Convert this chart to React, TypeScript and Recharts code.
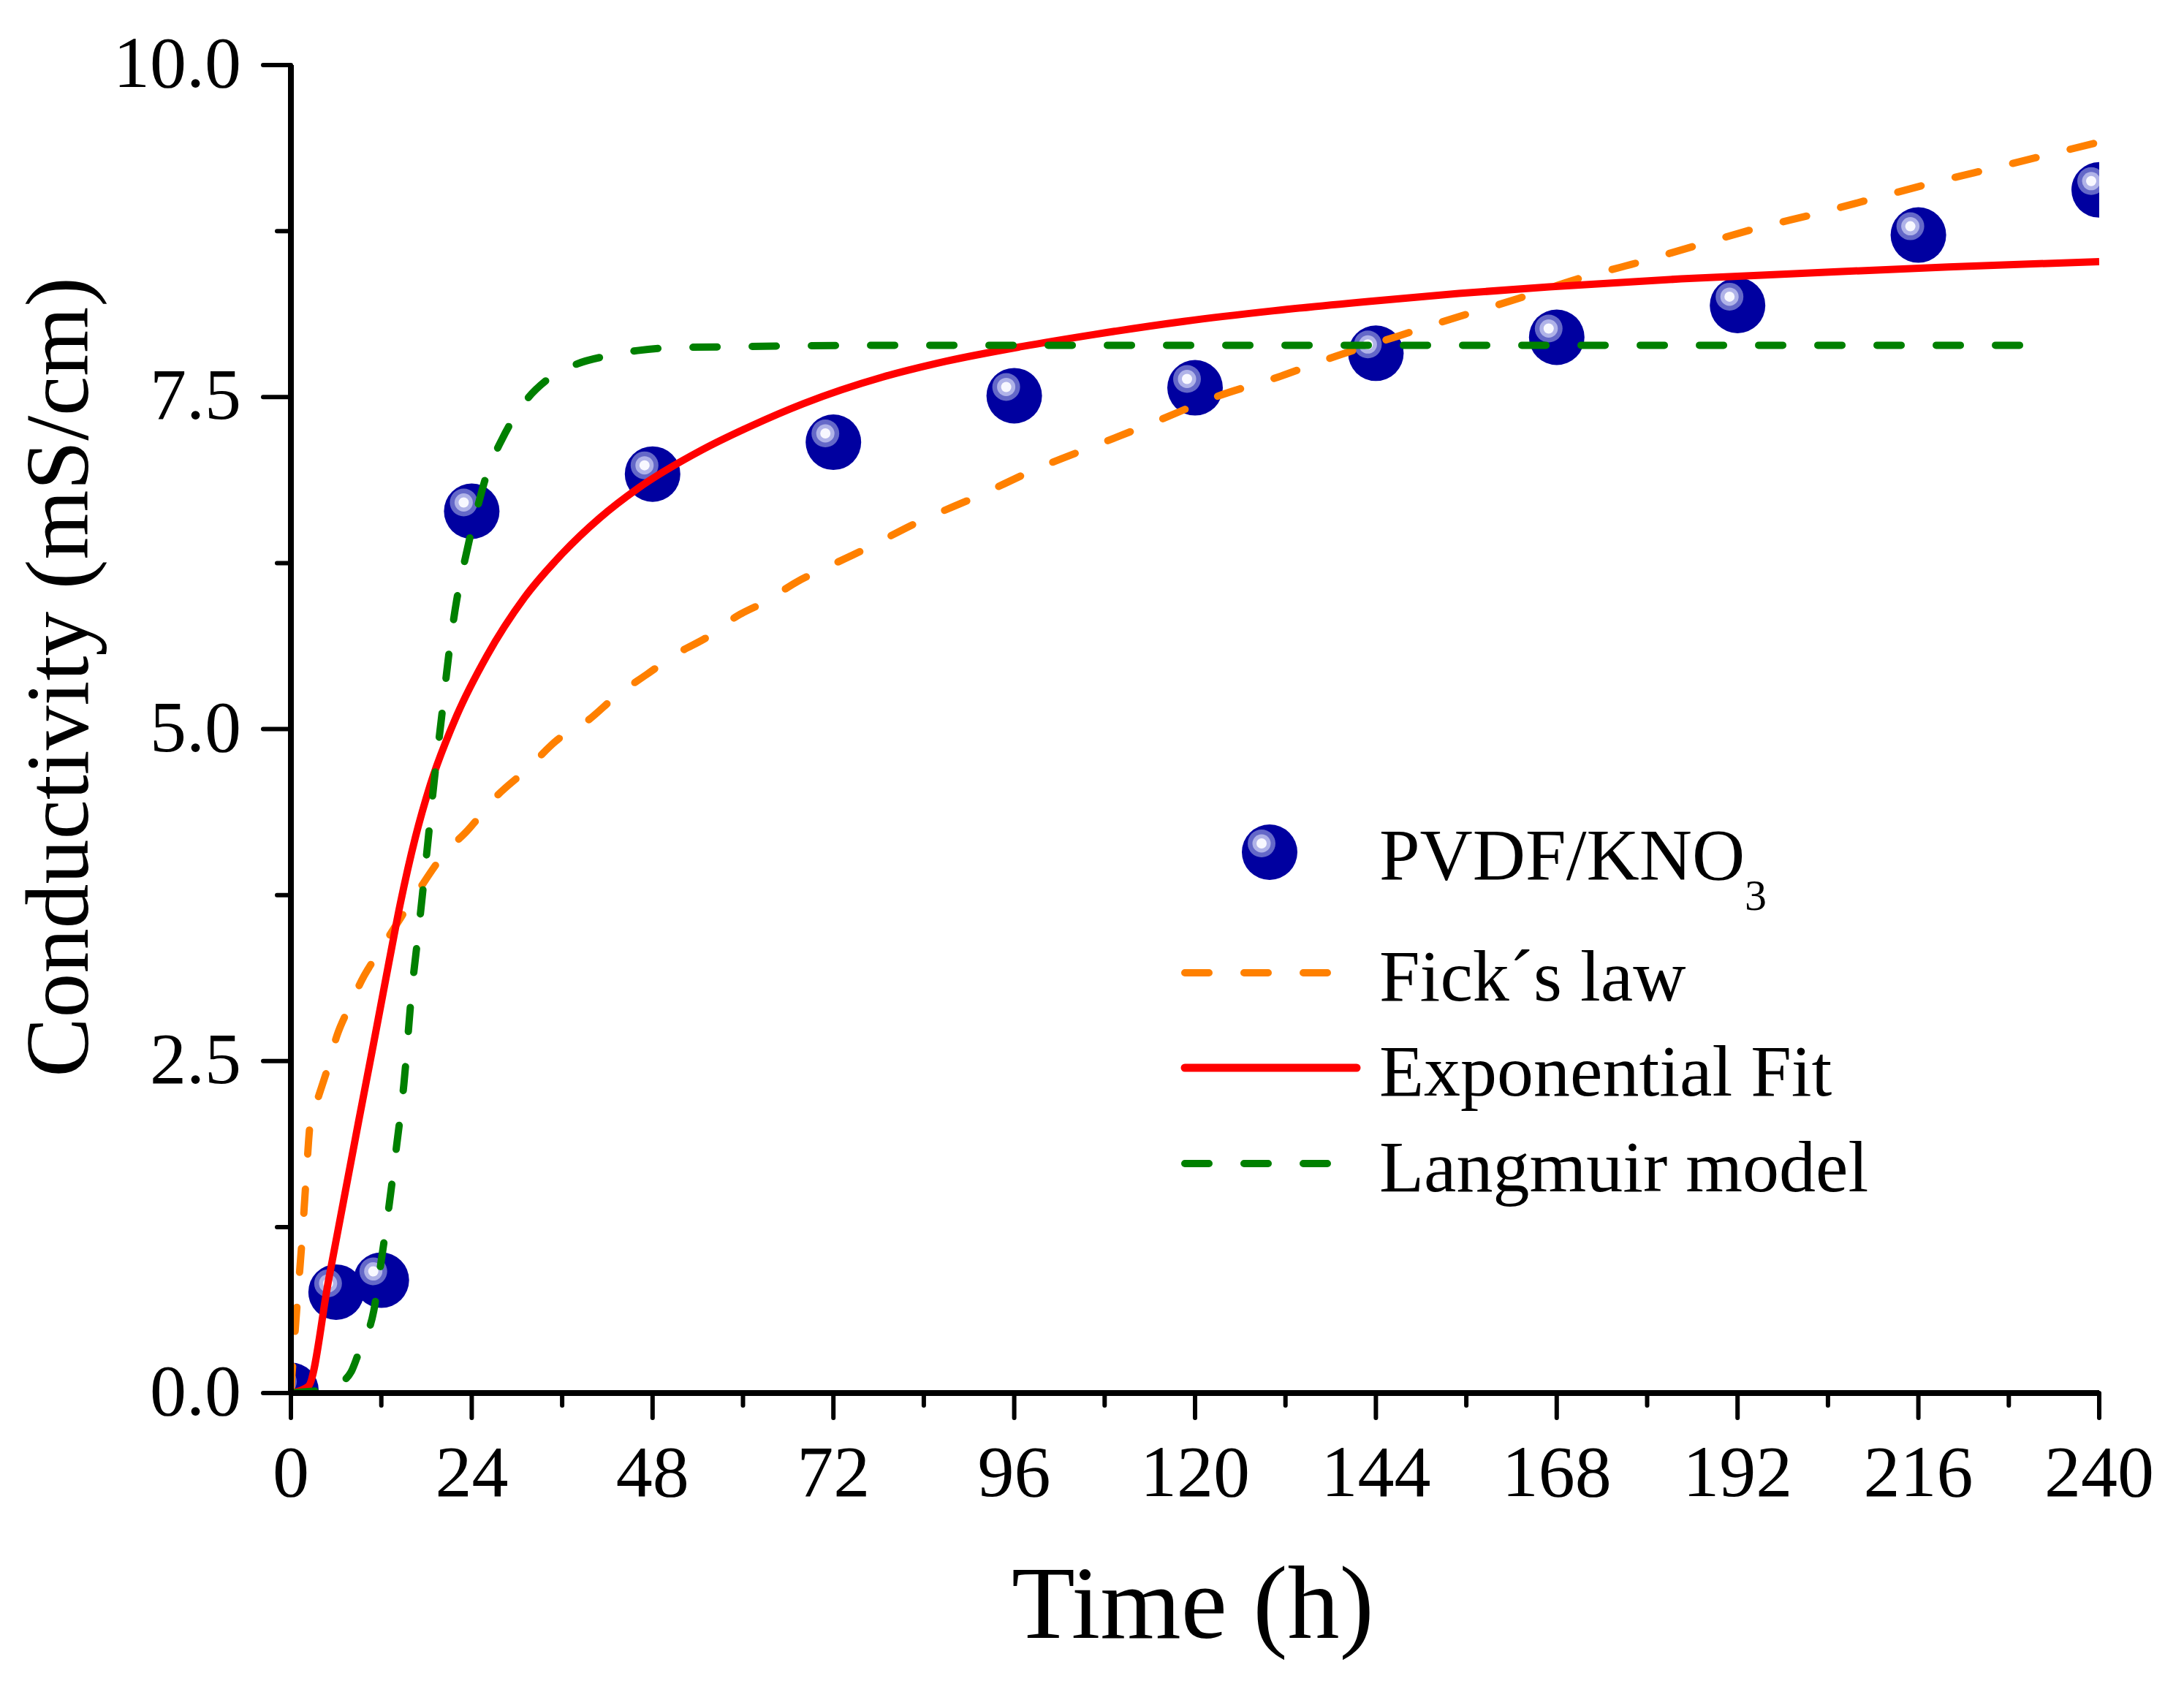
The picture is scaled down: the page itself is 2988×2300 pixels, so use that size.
import React from 'react';
import { ComposedChart, Line, Scatter, XAxis, YAxis, Legend, Label } from 'recharts';

// measured conductivity, PVDF/KNO3
const measTime = [0, 6, 12, 24, 48, 72, 96, 120, 144, 168, 192, 216, 240];
const measCond = [0.02, 0.76, 0.85, 6.64, 6.92, 7.16, 7.51, 7.57, 7.83, 7.95, 8.19, 8.72, 9.06];

// Fick's law model
const fickTime = [
  0, 0.5, 1, 1.5, 2, 2.6, 3.7, 4.9, 6.1, 7.6, 9.7, 11.8, 14.7, 17, 20.2, 23.5, 27.4, 31.2,
  35.4, 39.3, 43.4, 47.2, 51.3, 55.2, 59.2, 63, 67.2, 70.8, 75.3, 83.3, 91.4, 99, 107, 115,
  122.7, 131, 138.8, 147, 154.7, 162.8, 170.8, 178.6, 186.5, 194.5, 202.4, 210.4, 218.4,
  226.4, 234.3, 240,
];
const fickCond = [
  0.02, 0.42, 0.8, 1.17, 1.6, 2.05, 2.24, 2.45, 2.69, 2.89, 3.14, 3.33, 3.59, 3.79, 4.05, 4.24,
  4.5, 4.69, 4.92, 5.06, 5.26, 5.41, 5.57, 5.69, 5.85, 5.96, 6.11, 6.21, 6.33, 6.56, 6.76,
  6.96, 7.14, 7.32, 7.5, 7.65, 7.81, 7.96, 8.1, 8.24, 8.39, 8.51, 8.64, 8.77, 8.88, 9.0, 9.12,
  9.23, 9.34, 9.42,
];

// exponential fit
const expTime = [
  0, 2.3, 5, 7, 9, 11, 13, 14.5, 16.5, 18.5, 22, 26, 31, 36, 41, 46, 54.5, 61, 68, 78.5,
  87, 97, 106.5, 118.5, 130.5, 143, 155, 167, 184.5, 200, 220, 240,
];
const expCond = [
  0, 0.05, 0.85, 1.45, 2.05, 2.64, 3.24, 3.68, 4.18, 4.58, 5.1, 5.55, 5.99, 6.32, 6.59, 6.81,
  7.1, 7.28, 7.45, 7.65, 7.77, 7.88, 7.97, 8.07, 8.15, 8.22, 8.28, 8.33, 8.39, 8.43, 8.48,
  8.52,
];

// Langmuir model
const langTime = [
  0, 2, 4, 6, 7, 8, 9, 10, 11, 12, 13, 14, 15, 16, 17, 18, 19, 20, 21, 22, 23, 24, 25, 26, 28,
  31, 34, 38, 42, 46, 50, 60, 80, 120, 180, 234,
];
const langCond = [
  0, 0.01, 0.02, 0.04, 0.09, 0.16, 0.3, 0.42, 0.62, 1.0, 1.4, 1.85, 2.33, 3.0, 3.51, 4.05,
  4.6, 5.09, 5.58, 5.97, 6.25, 6.5, 6.72, 6.92, 7.18, 7.46, 7.63, 7.75, 7.81, 7.85, 7.87,
  7.88, 7.89, 7.89, 7.89, 7.89,
];

const xTicks = [0, 12, 24, 36, 48, 60, 72, 84, 96, 108, 120, 132, 144, 156, 168, 180, 192, 204, 216, 228, 240];
const yTicks = [0, 1.25, 2.5, 3.75, 5, 6.25, 7.5, 8.75, 10];

const FONT = '"Liberation Serif", "Times New Roman", serif';
const DASH = '33 48';

const zip = (ts: number[], vs: number[]) => ts.map((t, i) => ({ t, v: vs[i] }));

const measData = zip(measTime, measCond);
const fickData = zip(fickTime, fickCond);
const expData = zip(expTime, expCond);
const langData = zip(langTime, langCond);

function Sphere({ cx, cy }: any) {
  if (cx == null || cy == null) return null;
  return (
    <g>
      <circle cx={cx} cy={cy} r={38} fill="#0000A0" />
      <circle cx={cx - 11} cy={cy - 12} r={19} fill="#6468C8" />
      <circle cx={cx - 11} cy={cy - 12} r={12.5} fill="#B0B3E8" />
      <circle cx={cx - 11} cy={cy - 12} r={7} fill="#F8F8FF" />
    </g>
  );
}

function XTick({ x, y, payload }: any) {
  const major = payload.value % 24 === 0;
  return (
    <g>
      <line x1={x} x2={x} y1={y} y2={y + (major ? 34 : 17)} stroke="#000" strokeWidth={6} strokeLinecap="round" />
      {major && (
        <text x={x} y={y + 141} textAnchor="middle" fontSize={100} fontFamily={FONT} fill="#000">
          {payload.value}
        </text>
      )}
    </g>
  );
}

function YTick({ x, y, payload }: any) {
  const q = payload.value / 2.5;
  const major = Math.abs(q - Math.round(q)) < 1e-6;
  return (
    <g>
      <line x1={x - (major ? 38 : 19)} x2={x} y1={y} y2={y} stroke="#000" strokeWidth={6} strokeLinecap="round" />
      {major && (
        <text x={x - 68} y={y + 30} textAnchor="end" fontSize={100} fontFamily={FONT} fill="#000">
          {payload.value.toFixed(1)}
        </text>
      )}
    </g>
  );
}

function XTitle({ viewBox }: any) {
  const { x, y, width } = viewBox;
  return (
    <text x={x + width / 2 - 3} y={y + 335} textAnchor="middle" fontSize={142} fontFamily={FONT} fill="#000">
      Time (h)
    </text>
  );
}

function YTitle({ viewBox }: any) {
  const { x, y, height } = viewBox;
  const cx = x + 120;
  const cy = y + height / 2 - 71;
  return (
    <text x={cx} y={cy} transform={`rotate(-90 ${cx} ${cy})`} textAnchor="middle" fontSize={122} fontFamily={FONT} fill="#000">
      Conductivity (mS/cm)
    </text>
  );
}

function LegendBox() {
  const textProps = { fontSize: 100, fontFamily: FONT, fill: '#000' };
  return (
    <svg width={1150} height={580}>
      <Sphere cx={147} cy={76} />
      <text x={297} y={113} {...textProps}>
        PVDF/KNO<tspan fontSize={60} dy={42}>3</tspan>
      </text>
      <line x1={31} x2={228} y1={241} y2={241} stroke="#FF8000" strokeWidth={10} strokeDasharray={DASH} strokeLinecap="round" />
      <text x={297} y={279} {...textProps}>Fick´s law</text>
      <line x1={31} x2={266} y1={371} y2={371} stroke="#FF0000" strokeWidth={11} strokeLinecap="round" />
      <text x={297} y={409} {...textProps}>Exponential Fit</text>
      <line x1={31} x2={228} y1={502} y2={502} stroke="#008000" strokeWidth={10} strokeDasharray={DASH} strokeLinecap="round" />
      <text x={297} y={540} {...textProps}>Langmuir model</text>
    </svg>
  );
}

export default function App() {
  const axisLine = { stroke: '#000', strokeWidth: 8 };
  return (
    <div style={{ position: 'absolute', left: 0, top: 0, width: 2988, height: 2300, background: '#fff' }}>
      <ComposedChart width={2988} height={2300} margin={{ top: 89, right: 116, bottom: 0, left: 0 }}>
        <XAxis
          dataKey="t"
          type="number"
          domain={[0, 240]}
          ticks={xTicks}
          interval={0}
          height={394}
          tickSize={0}
          tickMargin={0}
          tickLine={false}
          axisLine={axisLine}
          tick={<XTick />}
          allowDataOverflow
        >
          <Label content={<XTitle />} />
        </XAxis>
        <XAxis
          xAxisId="top"
          orientation="top"
          type="number"
          domain={[0, 240]}
          height={0}
          tick={false}
          tickLine={false}
          axisLine={axisLine}
        />
        <YAxis
          dataKey="v"
          type="number"
          domain={[0, 10]}
          ticks={yTicks}
          interval={0}
          width={398}
          tickSize={0}
          tickMargin={0}
          tickLine={false}
          axisLine={axisLine}
          tick={<YTick />}
          allowDataOverflow
        >
          <Label content={<YTitle />} />
        </YAxis>
        <YAxis
          yAxisId="right"
          orientation="right"
          type="number"
          domain={[0, 10]}
          width={0}
          tick={false}
          tickLine={false}
          axisLine={axisLine}
        />
        <Scatter
          name="PVDF/KNO3"
          data={measData}
          shape={<Sphere />}
          isAnimationActive={false}
          zIndex={350}
        />
        <Line
          name="Fick´s law"
          data={fickData}
          dataKey="v"
          type="monotone"
          stroke="#FF8000"
          strokeWidth={10}
          strokeDasharray={DASH}
          strokeLinecap="round"
          dot={false}
          activeDot={false}
          isAnimationActive={false}
        />
        <Line
          name="Exponential Fit"
          data={expData}
          dataKey="v"
          type="monotone"
          stroke="#FF0000"
          strokeWidth={10}
          dot={false}
          activeDot={false}
          isAnimationActive={false}
        />
        <Line
          name="Langmuir model"
          data={langData}
          dataKey="v"
          type="monotone"
          stroke="#008000"
          strokeWidth={10}
          strokeDasharray={DASH}
          strokeLinecap="round"
          dot={false}
          activeDot={false}
          isAnimationActive={false}
        />
        <Legend
          layout="vertical"
          align="center"
          verticalAlign="middle"
          content={<LegendBox />}
          wrapperStyle={{ left: 1590, top: 1090, width: 1150, height: 580 }}
        />
      </ComposedChart>
    </div>
  );
}
